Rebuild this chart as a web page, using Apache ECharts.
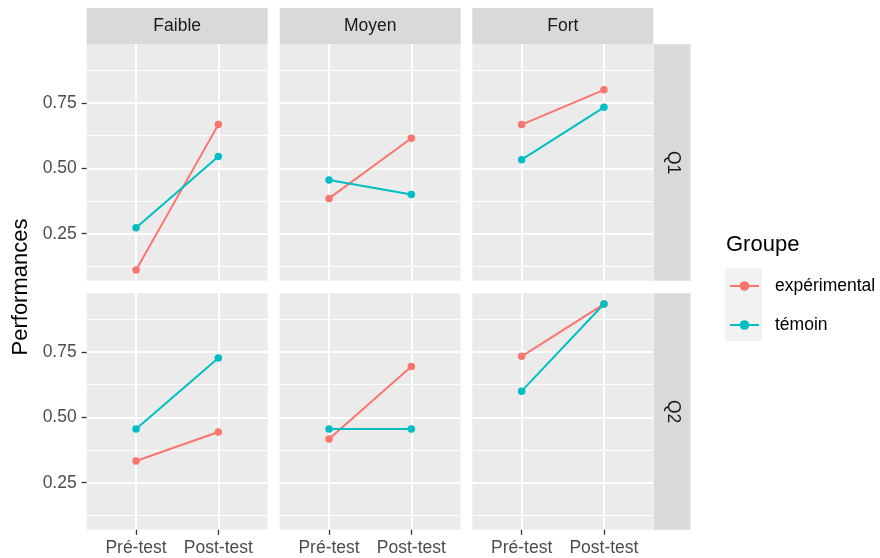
<!DOCTYPE html>
<html>
<head>
<meta charset="utf-8">
<script src="https://cdn.jsdelivr.net/npm/echarts@6/dist/echarts.min.js"></script>
<style>
html, body { margin: 0; padding: 0; background: #fff; }
#chart { width: 880px; height: 558px; }
</style>
</head>
<body>
<div id="chart"></div>
<script>
const phases = ['Pré-test', 'Post-test'];
const niveaux = ['Faible', 'Moyen', 'Fort'];
const questions = ['Q1', 'Q2'];
const groupes = ['expérimental', 'témoin'];
const yTicks = [0.25, 0.50, 0.75];
const yMinor = [0.125, 0.375, 0.625, 0.875];
// one pair [pré, post] per niveau: Faible, Moyen, Fort
const expQ1 = [[0.111, 0.667], [0.385, 0.615], [0.667, 0.800]];
const temQ1 = [[0.273, 0.545], [0.455, 0.400], [0.533, 0.733]];
const expQ2 = [[0.333, 0.444], [0.417, 0.694], [0.733, 0.933]];
const temQ2 = [[0.455, 0.727], [0.455, 0.455], [0.600, 0.933]];

const colors = ['#F8766D', '#00BFC4'];
const font = 'Liberation Sans, Arial, sans-serif';
const byQuestion = [[expQ1, temQ1], [expQ2, temQ2]];

// ggplot style range: data range + 5% each side
const all = [].concat(...[expQ1, temQ1, expQ2, temQ2].map(a => [].concat(...a)));
const lo = Math.min(...all), hi = Math.max(...all);
const pad = (hi - lo) * 0.05;
const yMin = lo - pad, yMax = hi + pad;

const lefts = [86.7, 279.7, 472.3];
const tops = [44.3, 293.3];
const pw = 181, ph = 236.5;

const grids = [], xAxes = [], yAxes = [], series = [], graphics = [];

questions.forEach(function (q, r) {
  niveaux.forEach(function (n, c) {
    const i = r * 3 + c;
    grids.push({
      left: lefts[c], top: tops[r], width: pw, height: ph,
      show: true, backgroundColor: '#EBEBEB', borderWidth: 0,
      outerBoundsMode: 'none'
    });
    xAxes.push({
      type: 'value', gridIndex: i, min: 0.4, max: 2.6,
      axisLine: { show: false },
      axisTick: { show: r === 1, customValues: [1, 2], length: 5, lineStyle: { color: '#333333', width: 1.3 } },
      axisLabel: {
        show: r === 1, customValues: [1, 2], margin: 9,
        color: '#4D4D4D', fontSize: 17.5, fontFamily: font,
        formatter: function (v) { return phases[Math.round(v) - 1]; }
      },
      splitLine: { show: true, lineStyle: { color: '#FFFFFF', width: 2 } }
    });
    // major gridlines + labels
    yAxes.push({
      type: 'value', gridIndex: i, min: yMin, max: yMax, position: 'left',
      axisLine: { show: false },
      axisTick: { show: c === 0, customValues: yTicks, length: 5, lineStyle: { color: '#333333', width: 1.3 } },
      axisLabel: {
        show: c === 0, customValues: yTicks, margin: 10,
        color: '#4D4D4D', fontSize: 17.5, fontFamily: font,
        formatter: function (v) { return v.toFixed(2); }
      },
      splitLine: { show: true, lineStyle: { color: '#FFFFFF', width: 2 } }
    });
    // minor gridlines
    yAxes.push({
      type: 'value', gridIndex: i, min: yMin, max: yMax, position: 'left',
      axisLine: { show: false },
      axisTick: { show: false, customValues: yMinor },
      axisLabel: { show: false, customValues: yMinor },
      splitLine: { show: true, lineStyle: { color: '#FFFFFF', width: 1 } }
    });
    groupes.forEach(function (g, k) {
      const vals = byQuestion[r][k][c];
      series.push({
        name: g, type: 'line', xAxisIndex: i, yAxisIndex: 2 * i,
        data: vals.map(function (v, j) { return [j + 1, v]; }),
        symbol: 'circle', symbolSize: 7.5, showSymbol: true,
        color: colors[k],
        lineStyle: { color: colors[k], width: 2 },
        itemStyle: { color: colors[k] },
        z: 3 + k
      });
    });
  });
});

// facet strips
niveaux.forEach(function (n, c) {
  graphics.push({ type: 'rect', shape: { x: lefts[c], y: 8, width: pw, height: 36.3 }, style: { fill: '#D9D9D9' } });
  graphics.push({ type: 'text', x: lefts[c] + pw / 2, y: 26.5,
    style: { text: n, fill: '#1A1A1A', font: '17.5px ' + font, align: 'center', verticalAlign: 'middle' } });
});
questions.forEach(function (q, r) {
  graphics.push({ type: 'rect', shape: { x: 653.7, y: tops[r], width: 36.8, height: ph }, style: { fill: '#D9D9D9' } });
  graphics.push({ type: 'text', x: 672.5, y: tops[r] + ph / 2, rotation: -Math.PI / 2,
    style: { text: q, fill: '#1A1A1A', font: '17.5px ' + font, align: 'center', verticalAlign: 'middle' } });
});
// y title
graphics.push({ type: 'text', x: 21, y: 287, rotation: Math.PI / 2,
  style: { text: 'Performances', fill: '#000000', font: '22px ' + font, align: 'center', verticalAlign: 'middle' } });
// legend title and key background
graphics.push({ type: 'text', x: 726, y: 245,
  style: { text: 'Groupe', fill: '#000000', font: '22px ' + font, align: 'left', verticalAlign: 'middle' } });
graphics.push({ type: 'rect', shape: { x: 725, y: 268, width: 37, height: 73 }, style: { fill: '#F2F2F2' }, z: -1 });

const chart = echarts.init(document.getElementById('chart'), null, { renderer: 'canvas' });
chart.setOption({
  animation: false,
  backgroundColor: '#FFFFFF',
  grid: grids,
  xAxis: xAxes,
  yAxis: yAxes,
  legend: {
    data: groupes, orient: 'vertical', left: 729, top: 277, padding: 0,
    itemWidth: 29, itemHeight: 12, itemGap: 21,
    textStyle: { fontSize: 17.5, fontFamily: font, color: '#000000', padding: [0, 0, 0, 11] }
  },
  graphic: graphics,
  series: series
});
</script>
</body>
</html>
